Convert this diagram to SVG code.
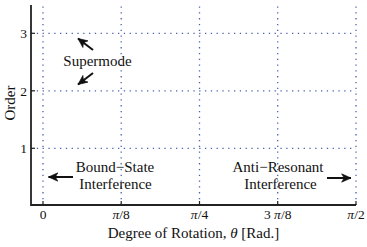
<svg xmlns="http://www.w3.org/2000/svg" width="367" height="247" viewBox="0 0 367 247">
<style>
.grid{stroke:#4a62b0;stroke-width:1.3;stroke-dasharray:1.3 4.5;fill:none}
.axis{stroke:#222;stroke-width:1.8;fill:none}
.tick{stroke:#222;stroke-width:1.2}
.t{font-family:"Liberation Serif","Times New Roman",serif;font-size:15px;fill:#111}
.s{font-family:"Liberation Serif","Times New Roman",serif;font-size:13.5px;fill:#111}
.arr{stroke:#111;stroke-width:2;fill:none;marker-end:url(#ah)}
</style>
<defs>
<marker id="ah" viewBox="0 0 10 10" refX="9" refY="5" markerWidth="11" markerHeight="11" orient="auto" markerUnits="userSpaceOnUse">
<path d="M0.5,1.2 L9,5 L0.5,8.8 L2.8,5 Z" fill="#111" stroke="#111" stroke-width="0.6" stroke-linejoin="miter"/>
</marker>
</defs>
<rect width="367" height="247" fill="#fff"/>
<g id="grid">
<line class="grid" x1="43" y1="205" x2="43" y2="5"/>
<line class="grid" x1="121.2" y1="205" x2="121.2" y2="5"/>
<line class="grid" x1="199.5" y1="205" x2="199.5" y2="5"/>
<line class="grid" x1="277.7" y1="205" x2="277.7" y2="5"/>
<line class="grid" x1="356" y1="205" x2="356" y2="5"/>
<line class="grid" x1="31" y1="33.3" x2="356" y2="33.3"/>
<line class="grid" x1="31" y1="90.8" x2="356" y2="90.8"/>
<line class="grid" x1="31" y1="148.3" x2="356" y2="148.3"/>
</g>
<g id="axes">
<path class="axis" d="M31,5 V205 H356"/>
<line class="tick" x1="31" y1="33.3" x2="35" y2="33.3"/>
<line class="tick" x1="31" y1="90.8" x2="35" y2="90.8"/>
<line class="tick" x1="31" y1="148.3" x2="35" y2="148.3"/>
<line class="tick" x1="43" y1="205" x2="43" y2="201"/>
<line class="tick" x1="121.2" y1="205" x2="121.2" y2="201"/>
<line class="tick" x1="199.5" y1="205" x2="199.5" y2="201"/>
<line class="tick" x1="277.7" y1="205" x2="277.7" y2="201"/>
<line class="tick" x1="356" y1="205" x2="356" y2="201"/>
<text class="s" x="27" y="38" text-anchor="end">3</text>
<text class="s" x="27" y="95.5" text-anchor="end">2</text>
<text class="s" x="27" y="153" text-anchor="end">1</text>
<text class="s" x="43" y="219" text-anchor="middle">0</text>
<text class="s" x="121.2" y="219" text-anchor="middle"><tspan font-style="italic">π</tspan>/8</text>
<text class="s" x="199.5" y="219" text-anchor="middle"><tspan font-style="italic">π</tspan>/4</text>
<text class="s" x="277.7" y="219" text-anchor="middle">3 <tspan font-style="italic">π</tspan>/8</text>
<text class="s" x="356" y="219" text-anchor="middle"><tspan font-style="italic">π</tspan>/2</text>
<text class="t" x="193.5" y="238" text-anchor="middle">Degree of Rotation, <tspan font-style="italic">θ</tspan> [Rad.]</text>
<text class="t" transform="translate(15,103) rotate(-90)" text-anchor="middle">Order</text>
</g>
<g id="supermode">
<text class="t" x="97.5" y="66" text-anchor="middle">Supermode</text>
</g>
<g id="bound-state">
<text class="t" x="115" y="172" text-anchor="middle">Bound−State</text>
<text class="t" x="115.5" y="188.5" text-anchor="middle">Interference</text>
</g>
<g id="anti-resonant">
<text class="t" x="278" y="172" text-anchor="middle">Anti−Resonant</text>
<text class="t" x="280.5" y="188.5" text-anchor="middle">Interference</text>
</g>
<g id="connectors">
<line class="arr" x1="93" y1="50" x2="78" y2="38.5"/>
<line class="arr" x1="93" y1="73" x2="78" y2="84.5"/>
<line class="arr" x1="73" y1="177" x2="48.5" y2="177"/>
<line class="arr" x1="327" y1="178" x2="351" y2="178"/>
</g>
</svg>
